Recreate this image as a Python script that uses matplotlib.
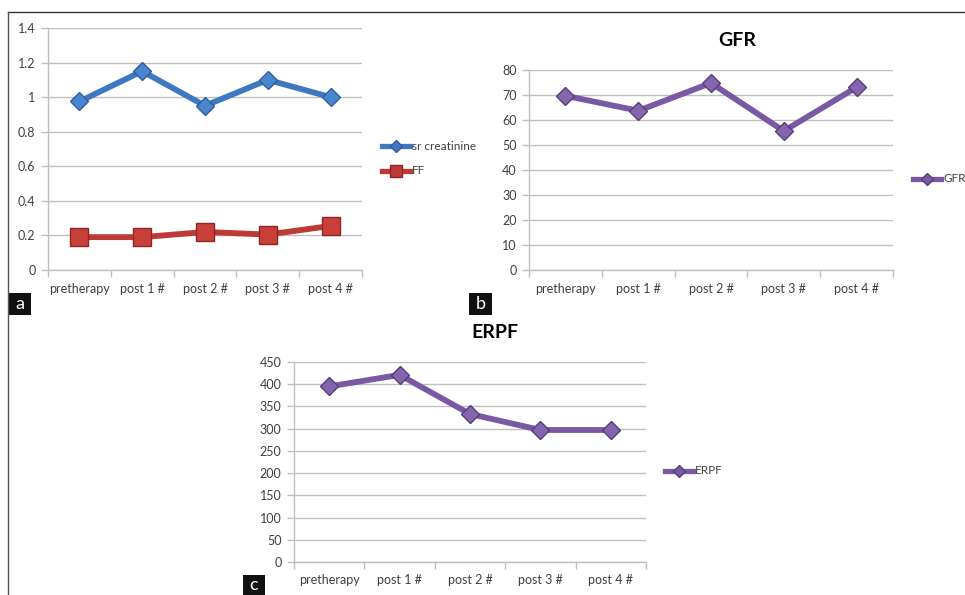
import numpy as np
import matplotlib.pyplot as plt
from matplotlib.patches import Rectangle
from matplotlib.lines import Line2D

plt.rcParams['font.family'] = ['Lato', 'DejaVu Sans']

categories = ["pretherapy", "post 1 #", "post 2 #", "post 3 #", "post 4 #"]
sr_creatinine = [0.975, 1.15, 0.95, 1.10, 1.00]
ff = [0.19, 0.19, 0.22, 0.205, 0.255]
gfr = [69.7, 63.7, 74.8, 55.6, 73.1]
erpf = [395, 421, 333, 297, 297]

W, H = 965, 595
fig = plt.figure(figsize=(W / 100, H / 100), dpi=100)

BLUE = "#3F78C0"
RED = "#BE3A36"
PURPLE = "#7A59A4"
GRID = "#BFBFBF"
TXT = "#404040"


def px_axes(left, top, right, bottom):
    return fig.add_axes([left / W, (H - bottom) / H, (right - left) / W, (bottom - top) / H])


def style(ax, ymax, ystep):
    x = np.arange(len(categories))
    ax.set_xlim(-0.5, len(categories) - 0.5)
    ax.set_ylim(0, ymax)
    ax.set_yticks(np.arange(0, ymax + ystep / 2, ystep))
    ax.set_xticks(np.arange(-0.5, len(categories)), minor=False)
    ax.set_xticklabels([])
    ax.set_xticks(x, minor=True)
    ax.set_xticklabels(categories, minor=True)
    ax.tick_params(axis="x", which="major", length=5, color=GRID, width=1)
    ax.tick_params(axis="x", which="minor", length=0, pad=9, labelsize=9, labelcolor=TXT)
    ax.tick_params(axis="y", length=5, color=GRID, width=1, labelsize=9, labelcolor=TXT, pad=4)
    ax.yaxis.grid(True, color=GRID, lw=1)
    ax.set_axisbelow(True)
    for s in ["top", "right"]:
        ax.spines[s].set_visible(False)
    for s in ["left", "bottom"]:
        ax.spines[s].set_color(GRID)
        ax.spines[s].set_linewidth(1)


def legend_at(handles, labels, x, y, gap=18):
    for i, (h, lab) in enumerate(zip(handles, labels)):
        yy = y + i * gap
        fig.add_artist(Line2D([x / W, (x + 28) / W], [(H - yy) / H] * 2,
                              color=h["color"], lw=3.8))
        fig.add_artist(Line2D([(x + 14) / W], [(H - yy) / H], color=h["color"],
                              marker=h["marker"], ms=h["ms"], mfc=h["color"],
                              mec=h["edge"], lw=0))
        fig.text((x + 30) / W, (H - yy) / H, lab, ha="left", va="center",
                 fontsize=8.5, color=TXT)


def label_box(text, left, top, right, bottom):
    fig.add_artist(Rectangle((left / W, (H - bottom) / H), (right - left) / W,
                             (bottom - top) / H, transform=fig.transFigure,
                             facecolor="#111111", edgecolor="none"))
    fig.text((left + right) / 2 / W, (H - (top + bottom) / 2) / H, text,
             ha="center", va="center", color="white", fontsize=13)


x = np.arange(len(categories))

# panel a
ax = px_axes(48, 28, 362, 270)
style(ax, 1.4, 0.2)
ax.set_yticklabels(["0", "0.2", "0.4", "0.6", "0.8", "1", "1.2", "1.4"])
ax.plot(x, sr_creatinine, color=BLUE, lw=4.2, marker="D", ms=9,
        mfc="#4A86D0", mec="#2F5E99", mew=1)
ax.plot(x, ff, color=RED, lw=4.2, marker="s", ms=13,
        mfc="#C9403B", mec="#8E2522", mew=1)
legend_at([dict(color=BLUE, marker="D", ms=6, edge="#2F5E99"),
           dict(color=RED, marker="s", ms=8, edge="#8E2522")],
          ["sr creatinine", "FF"], 382, 146, gap=25)

# panel b
ax = px_axes(529, 70, 893, 270)
style(ax, 80, 10)
ax.plot(x, gfr, color=PURPLE, lw=4.2, marker="D", ms=9.5,
        mfc="#8366AE", mec="#553D7A", mew=1)
fig.text(737 / W, (H - 40) / H, "GFR", ha="center", va="center",
         fontsize=14, fontweight="bold", color="black")
legend_at([dict(color=PURPLE, marker="D", ms=6, edge="#553D7A")], ["GFR"], 913, 179)

# panel c
ax = px_axes(294, 362, 646, 562)
style(ax, 450, 50)
ax.plot(x, erpf, color=PURPLE, lw=4.2, marker="D", ms=9.5,
        mfc="#8366AE", mec="#553D7A", mew=1)
fig.text(495 / W, (H - 332) / H, "ERPF", ha="center", va="center",
         fontsize=14, fontweight="bold", color="black")
legend_at([dict(color=PURPLE, marker="D", ms=6, edge="#553D7A")], ["ERPF"], 665, 471)

# frame lines
fig.add_artist(Line2D([8 / W, 1.0], [(H - 12) / H] * 2, color="#333333", lw=1))
fig.add_artist(Line2D([8 / W, 8 / W], [(H - 12) / H, 0], color="#555555", lw=1))

label_box("a", 8, 293, 31, 315)
label_box("b", 469, 293, 492, 315)
label_box("c", 243, 575, 265, 595)

fig.savefig("out.png", dpi=100)
